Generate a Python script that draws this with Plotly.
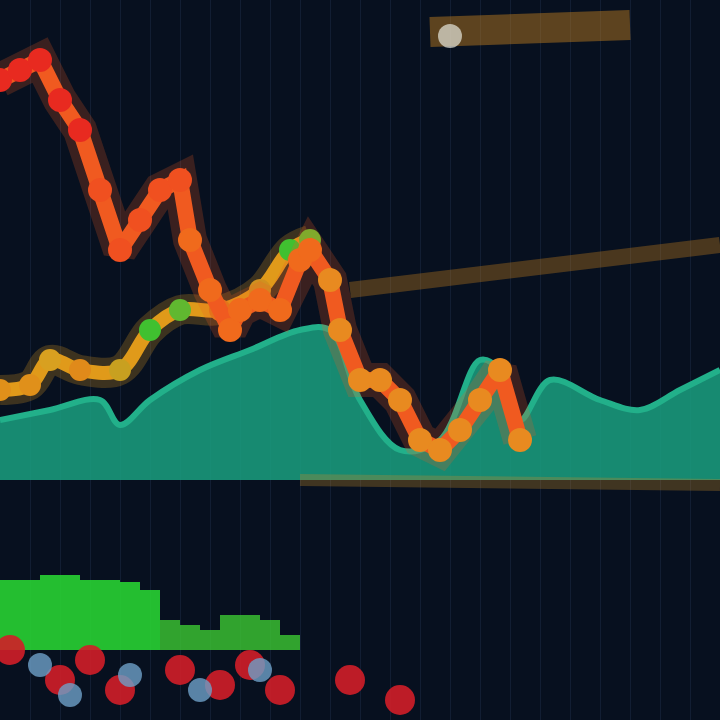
import plotly.graph_objects as go

# ---- data (time index, level) ----
red_x = [0, 2, 4, 6, 8, 10, 12, 14, 16, 18, 19, 21, 23, 24, 26, 28, 30, 31, 33, 34, 36, 38, 40, 42, 44, 46, 48, 50, 52]
red_y = [640, 650, 660, 620, 590, 530, 470, 500, 530, 540, 480, 430, 390, 410, 420, 410, 460, 470, 440, 390, 340, 340, 320, 280, 270, 290, 320, 350, 280]

area_x = [0, 5, 10, 12, 15, 20, 25, 30, 33, 36, 40, 44, 48, 50, 52, 55, 60, 64, 68, 72]
area_y = [300, 310, 320, 295, 320, 350, 370, 390, 390, 320, 270, 280, 360, 350, 300, 340, 320, 310, 330, 350]
area_base = 240

green_x = [0, 3, 5, 8, 12, 15, 18, 22, 26, 29, 31]
green_y = [330, 335, 360, 350, 350, 390, 410, 410, 430, 470, 480]

band_x = [35, 72]
band_y = [430, 475]

top_x = [43, 63]
top_y = [688, 695]

low_x = [30, 72]
low_y = [240, 235]

vol1_x = [1, 3, 5, 7, 9, 11, 13, 15]
vol1_top = [140, 140, 145, 145, 140, 140, 138, 130]
vol2_x = [17, 19, 21, 23, 25, 27, 29]
vol2_top = [100, 95, 90, 105, 105, 100, 85]
vol_base = [70] * 8
vol2_base = [70] * 7

red_dot_x = [1, 6, 9, 12, 18, 22, 25, 28, 35, 40]
red_dot_y = [70, 40, 60, 30, 50, 35, 55, 30, 40, 20]
blue_dot_x = [4, 7, 13, 20, 26]
blue_dot_y = [55, 25, 45, 30, 50]

fig = go.Figure()

# area
fig.add_trace(go.Scatter(x=area_x, y=[area_base] * len(area_x), mode="lines",
                         line=dict(width=0), hoverinfo="skip", showlegend=False))
fig.add_trace(go.Scatter(x=area_x, y=area_y, mode="lines", fill="tonexty",
                         fillcolor="rgba(26,160,128,0.85)", line=dict(color="#22b08a", width=6, shape="spline"),
                         showlegend=False))

# faint bands
fig.add_trace(go.Scatter(x=band_x, y=band_y, mode="lines",
                         line=dict(color="rgba(200,130,30,0.35)", width=16), showlegend=False))
fig.add_trace(go.Scatter(x=top_x, y=top_y, mode="lines",
                         line=dict(color="rgba(200,130,30,0.45)", width=30), showlegend=False))
fig.add_trace(go.Scatter(x=[45], y=[684], mode="markers",
                         marker=dict(color="rgba(230,230,220,0.7)", size=24), showlegend=False))
fig.add_trace(go.Scatter(x=low_x, y=low_y, mode="lines",
                         line=dict(color="rgba(200,140,40,0.3)", width=12), showlegend=False))

# green/orange lower line with glow
fig.add_trace(go.Scatter(x=green_x, y=green_y, mode="lines",
                         line=dict(color="rgba(220,150,30,0.25)", width=30, shape="spline"), showlegend=False))
fig.add_trace(go.Scatter(x=green_x, y=green_y, mode="lines+markers",
                         line=dict(color="#e09a1a", width=14, shape="spline"),
                         marker=dict(size=22, color=["#e0901a", "#e0901a", "#d8a020", "#e08a1a", "#c8a020",
                                                     "#40c030", "#60b830", "#e07a1a", "#d09020", "#40c030", "#60c030"]),
                         showlegend=False))

# red/orange zigzag with glow
red_colors = ["#e82a20"] * 5 + ["#f05020"] * 5 + ["#f06a1c"] * 8 + ["#e88a20"] * 11
fig.add_trace(go.Scatter(x=red_x, y=red_y, mode="lines",
                         line=dict(color="rgba(240,90,30,0.22)", width=34), showlegend=False))
fig.add_trace(go.Scatter(x=red_x, y=red_y, mode="lines+markers",
                         line=dict(color="#f05a20", width=16),
                         marker=dict(size=24, color=red_colors), showlegend=False))

# bottom volume bars
fig.add_trace(go.Bar(x=vol1_x, y=[t - b for t, b in zip(vol1_top, vol_base)], base=vol_base,
                     marker=dict(color="rgba(40,210,50,0.9)", line=dict(width=0)), width=2, showlegend=False))
fig.add_trace(go.Bar(x=vol2_x, y=[t - b for t, b in zip(vol2_top, vol2_base)], base=vol2_base,
                     marker=dict(color="rgba(60,200,50,0.8)", line=dict(width=0)), width=2, showlegend=False))

# dots
fig.add_trace(go.Scatter(x=red_dot_x, y=red_dot_y, mode="markers",
                         marker=dict(color="rgba(210,30,40,0.9)", size=30), showlegend=False))
fig.add_trace(go.Scatter(x=blue_dot_x, y=blue_dot_y, mode="markers",
                         marker=dict(color="rgba(110,160,200,0.8)", size=24), showlegend=False))

fig.update_layout(
    width=720, height=720,
    margin=dict(l=0, r=0, t=0, b=0),
    paper_bgcolor="#07101f",
    plot_bgcolor="#07101f",
    bargap=0,
    xaxis=dict(range=[0, 72], showticklabels=False, zeroline=False,
               showgrid=True, gridcolor="rgba(50,70,110,0.25)", dtick=3),
    yaxis=dict(range=[0, 720], showticklabels=False, zeroline=False, showgrid=False),
)

fig.write_html("out.html", config={"displayModeBar": False},
               post_script="document.body.style.margin='0';document.body.style.background='#07101f';document.body.style.overflow='hidden';")
